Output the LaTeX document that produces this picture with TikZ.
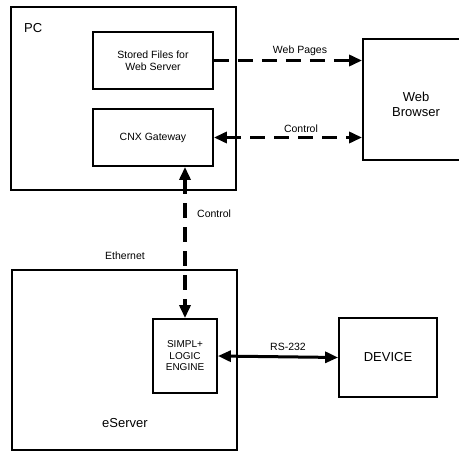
\documentclass[tikz,border=0pt]{standalone}
\usepackage{fontspec}
\setmainfont{Liberation Sans}
\usetikzlibrary{arrows.meta}

\begin{document}
\begin{tikzpicture}[x=1pt,y=-1pt,
    box/.style={draw,line width=1.8pt,inner sep=0pt,align=center,font=\fontsize{10.5}{12}\selectfont},
    bigbox/.style={box,font=\fontsize{13}{15}\selectfont},
    lbl/.style={font=\fontsize{10.5}{12}\selectfont,inner sep=0pt},
    biglbl/.style={lbl,align=center,font=\fontsize{13}{15}\selectfont},
    link/.style={line width=3.5pt,dash pattern=on 15pt off 9pt,
      arrows={-Triangle[length=13pt,width=11pt]}},
    wire/.style={line width=3pt,arrows={Triangle[length=13pt,width=11pt]-Triangle[length=13pt,width=11pt]}}]
  \useasboundingbox (0,0) rectangle (459,452);
  \clip (0,0) rectangle (459,452);
  % PC side
  \node[box,minimum width=225pt,minimum height=183pt] (pc) at (123.5,98.5) {};
  \node[biglbl,anchor=west] (pclbl) at (24,28) {PC};
  \node[box,minimum width=120pt,minimum height=57pt] (files) at (153,60.5)
    {Stored Files for\\Web Server};
  \node[box,minimum width=120pt,minimum height=57pt] (cnx) at (153,137.5) {CNX Gateway};
  \node[bigbox,minimum width=106pt,minimum height=121pt] (web) at (416,99.5) {};
  \node[biglbl] (weblbl) at (416,104) {Web\\Browser};
  % eServer side
  \node[box,minimum width=225pt,minimum height=180pt] (eserver) at (124.5,360) {};
  \node[biglbl] (eslbl) at (125,423) {eServer};
  \node[box,minimum width=64pt,minimum height=74pt,font=\fontsize{10}{11.5}\selectfont,
    text depth=-2pt] (simpl) at (185,356) {SIMPL+\\LOGIC\\ENGINE};
  \node[bigbox,minimum width=98pt,minimum height=79pt] (device) at (388,357.5) {DEVICE};
  % links
  \draw[link] (files.east) -- (files.east -| web.west);
  \draw[link,arrows={Triangle[length=13pt,width=11pt]-Triangle[length=13pt,width=11pt]}]
    (cnx.east) -- (cnx.east -| web.west);
  \draw[link,arrows={Triangle[length=13pt,width=11pt]-Triangle[length=13pt,width=11pt]}]
    (simpl.north |- cnx.south) -- (simpl.north);
  \draw[wire] (simpl.east) -- (device.west);
  % labels
  \node[lbl] (pages) at (300,51) {Web Pages};
  \node[lbl] (ctl1) at (301,129) {Control};
  \node[lbl,anchor=west] (ctl2) at (197,214) {Control};
  \node[lbl] (eth) at (125,256) {Ethernet};
  \node[lbl] (rs) at (288,347) {RS-232};
\end{tikzpicture}
\end{document}
